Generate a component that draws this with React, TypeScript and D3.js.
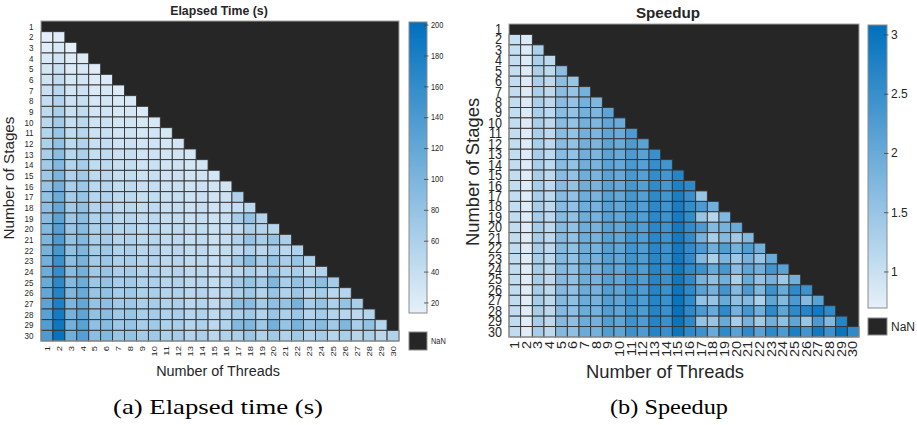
import React from "react";
import * as d3 from "d3";

const stages = ["1","2","3","4","5","6","7","8","9","10","11","12","13","14","15","16","17","18","19","20","21","22","23","24","25","26","27","28","29","30"];
const threads = ["1","2","3","4","5","6","7","8","9","10","11","12","13","14","15","16","17","18","19","20","21","22","23","24","25","26","27","28","29","30"];

// Elapsed time (s): one row per number of stages, one value per number of threads (row 1 is missing)
const elapsedRows: number[][] = [
  [],
  [14.4, 18.4],
  [18.8, 24.7, 15.0],
  [23.2, 30.9, 18.9, 21.8],
  [27.9, 37.5, 22.5, 26.4, 18.1],
  [32.2, 43.7, 26.0, 30.4, 20.9, 22.7],
  [36.7, 49.9, 29.7, 34.8, 23.8, 25.6, 20.7],
  [41.3, 56.2, 33.4, 39.1, 26.5, 28.6, 23.4, 24.9],
  [45.9, 62.4, 36.9, 43.4, 29.5, 31.6, 25.9, 27.3, 22.9],
  [50.0, 68.6, 40.5, 47.8, 32.2, 34.7, 28.3, 30.1, 25.7, 27.0],
  [54.5, 75.8, 44.2, 52.1, 35.2, 37.6, 30.7, 32.6, 27.8, 29.5, 25.4],
  [59.1, 82.1, 47.9, 56.4, 38.1, 40.8, 33.3, 35.1, 29.8, 31.6, 27.7, 29.4],
  [63.6, 88.4, 51.2, 60.8, 40.7, 43.9, 35.6, 37.8, 31.9, 33.9, 29.6, 31.5, 27.4],
  [68.1, 94.7, 54.8, 65.1, 43.7, 46.7, 38.2, 40.3, 34.1, 36.1, 31.4, 33.4, 28.9, 30.4],
  [72.7, 101.0, 58.5, 69.4, 46.6, 49.8, 40.5, 43.0, 36.2, 38.3, 33.4, 35.5, 30.5, 32.7, 28.8],
  [77.2, 107.3, 62.1, 73.8, 49.2, 52.9, 43.0, 45.4, 38.2, 40.5, 35.1, 37.5, 32.0, 35.0, 29.9, 31.5],
  [81.7, 113.6, 65.8, 78.1, 52.1, 55.7, 45.3, 48.0, 40.3, 42.9, 37.1, 39.6, 33.6, 36.4, 31.2, 35.0, 58.3],
  [86.3, 119.9, 68.9, 82.4, 54.9, 58.8, 47.8, 50.4, 42.3, 45.0, 38.8, 41.6, 35.2, 38.1, 32.5, 36.2, 40.1, 48.6],
  [90.0, 126.2, 72.5, 86.7, 57.5, 61.9, 50.1, 53.1, 44.6, 47.4, 40.8, 43.8, 36.9, 40.0, 34.0, 38.1, 64.8, 81.0, 55.5],
  [94.4, 132.5, 76.1, 90.3, 60.4, 64.6, 52.6, 55.4, 46.6, 49.5, 42.5, 45.7, 38.6, 41.8, 35.4, 39.7, 44.3, 60.0, 55.1, 51.0],
  [98.9, 138.8, 79.7, 94.6, 63.2, 67.6, 54.8, 58.1, 48.8, 51.9, 44.5, 47.9, 40.3, 43.8, 37.1, 41.6, 57.8, 79.1, 62.9, 76.3, 62.9],
  [103.4, 145.1, 83.4, 98.8, 65.7, 70.7, 57.3, 60.7, 50.8, 54.0, 46.3, 49.9, 42.0, 45.6, 38.5, 43.3, 48.6, 58.8, 49.6, 60.4, 49.6, 58.8],
  [107.9, 153.4, 86.3, 103.1, 68.6, 73.8, 59.8, 63.0, 53.0, 56.3, 48.4, 52.0, 43.8, 47.6, 40.1, 45.2, 68.6, 89.7, 64.8, 80.4, 63.0, 77.7, 58.3],
  [112.4, 159.7, 89.9, 107.4, 71.4, 76.4, 61.9, 65.6, 54.9, 58.4, 50.2, 54.0, 45.5, 49.3, 41.4, 46.9, 49.6, 60.7, 51.7, 73.6, 57.8, 63.9, 50.6, 56.5],
  [116.9, 166.1, 93.5, 111.7, 74.3, 79.4, 64.4, 68.2, 57.1, 60.7, 52.2, 56.1, 47.1, 51.3, 42.9, 48.7, 68.2, 78.9, 66.4, 97.1, 63.1, 81.5, 68.2, 87.1, 66.4],
  [121.4, 172.5, 97.1, 116.0, 76.7, 82.5, 66.9, 70.5, 59.1, 62.7, 54.0, 58.0, 48.7, 53.1, 44.3, 50.4, 61.0, 70.9, 54.6, 77.1, 57.0, 74.9, 53.5, 65.6, 50.4, 53.5],
  [125.9, 178.9, 100.7, 120.3, 79.5, 85.0, 69.0, 73.1, 61.2, 65.0, 55.9, 60.2, 50.4, 55.0, 45.3, 52.3, 87.7, 90.6, 68.0, 85.0, 80.0, 104.6, 64.7, 80.0, 59.1, 80.0, 63.2],
  [130.4, 185.3, 104.3, 124.6, 82.3, 88.0, 71.5, 75.7, 63.1, 67.0, 57.7, 62.0, 52.1, 56.8, 46.6, 53.9, 61.2, 70.4, 54.2, 76.1, 59.9, 74.1, 54.2, 67.0, 54.2, 52.1, 48.6, 54.2],
  [134.9, 191.6, 107.9, 128.9, 85.2, 91.0, 73.9, 77.9, 65.3, 69.4, 59.7, 64.2, 53.7, 58.7, 48.6, 55.8, 94.0, 97.1, 72.8, 107.9, 78.7, 104.0, 76.7, 91.0, 69.4, 97.1, 63.3, 83.2, 53.9],
  [139.4, 198.0, 110.7, 133.2, 87.5, 94.1, 76.0, 80.5, 67.2, 71.3, 61.4, 66.0, 55.3, 60.4, 50.5, 57.4, 61.4, 75.3, 57.9, 70.0, 57.9, 70.0, 57.9, 65.4, 53.8, 62.7, 51.9, 61.4, 50.2, 57.9],
];

// Speedup: same layout
const speedupRows: number[][] = [
  [],
  [1.02, 0.80],
  [1.04, 0.79, 1.30],
  [1.05, 0.79, 1.29, 1.12],
  [1.05, 0.78, 1.30, 1.11, 1.62],
  [1.06, 0.78, 1.31, 1.12, 1.63, 1.50],
  [1.06, 0.78, 1.31, 1.12, 1.64, 1.52, 1.88],
  [1.06, 0.78, 1.31, 1.12, 1.65, 1.53, 1.87, 1.76],
  [1.06, 0.78, 1.32, 1.12, 1.65, 1.54, 1.88, 1.78, 2.12],
  [1.07, 0.78, 1.32, 1.12, 1.66, 1.54, 1.89, 1.78, 2.08, 1.98],
  [1.07, 0.77, 1.32, 1.12, 1.66, 1.55, 1.90, 1.79, 2.10, 1.98, 2.30],
  [1.07, 0.77, 1.32, 1.12, 1.66, 1.55, 1.90, 1.80, 2.12, 2.00, 2.28, 2.15],
  [1.07, 0.77, 1.33, 1.12, 1.67, 1.55, 1.91, 1.80, 2.13, 2.01, 2.30, 2.16, 2.48],
  [1.07, 0.77, 1.33, 1.12, 1.67, 1.56, 1.91, 1.81, 2.14, 2.02, 2.32, 2.18, 2.52, 2.40],
  [1.07, 0.77, 1.33, 1.12, 1.67, 1.56, 1.92, 1.81, 2.15, 2.03, 2.33, 2.19, 2.55, 2.38, 2.70],
  [1.07, 0.77, 1.33, 1.12, 1.68, 1.56, 1.92, 1.82, 2.16, 2.04, 2.35, 2.20, 2.58, 2.36, 2.76, 2.62],
  [1.07, 0.77, 1.33, 1.12, 1.68, 1.57, 1.93, 1.82, 2.17, 2.04, 2.36, 2.21, 2.60, 2.40, 2.80, 2.50, 1.50],
  [1.07, 0.77, 1.34, 1.12, 1.68, 1.57, 1.93, 1.83, 2.18, 2.05, 2.38, 2.22, 2.62, 2.42, 2.84, 2.55, 2.30, 1.90],
  [1.08, 0.77, 1.34, 1.12, 1.69, 1.57, 1.94, 1.83, 2.18, 2.05, 2.38, 2.22, 2.63, 2.43, 2.86, 2.55, 1.50, 1.20, 1.75],
  [1.08, 0.77, 1.34, 1.13, 1.69, 1.58, 1.94, 1.84, 2.19, 2.06, 2.40, 2.23, 2.64, 2.44, 2.88, 2.57, 2.30, 1.70, 1.85, 2.00],
  [1.08, 0.77, 1.34, 1.13, 1.69, 1.58, 1.95, 1.84, 2.19, 2.06, 2.40, 2.23, 2.65, 2.44, 2.88, 2.57, 1.85, 1.35, 1.70, 1.40, 1.70],
  [1.08, 0.77, 1.34, 1.13, 1.70, 1.58, 1.95, 1.84, 2.20, 2.07, 2.41, 2.24, 2.66, 2.45, 2.90, 2.58, 2.30, 1.90, 2.25, 1.85, 2.25, 1.90],
  [1.08, 0.76, 1.35, 1.13, 1.70, 1.58, 1.95, 1.85, 2.20, 2.07, 2.41, 2.24, 2.66, 2.45, 2.91, 2.58, 1.70, 1.30, 1.80, 1.45, 1.85, 1.50, 2.00],
  [1.08, 0.76, 1.35, 1.13, 1.70, 1.59, 1.96, 1.85, 2.21, 2.08, 2.42, 2.25, 2.67, 2.46, 2.93, 2.59, 2.45, 2.00, 2.35, 1.65, 2.10, 1.90, 2.40, 2.15],
  [1.08, 0.76, 1.35, 1.13, 1.70, 1.59, 1.96, 1.85, 2.21, 2.08, 2.42, 2.25, 2.68, 2.46, 2.94, 2.59, 1.85, 1.60, 1.90, 1.30, 2.00, 1.55, 1.85, 1.45, 1.90],
  [1.08, 0.76, 1.35, 1.13, 1.71, 1.59, 1.96, 1.86, 2.22, 2.09, 2.43, 2.26, 2.69, 2.47, 2.96, 2.60, 2.15, 1.85, 2.40, 1.70, 2.30, 1.75, 2.45, 2.00, 2.60, 2.45],
  [1.08, 0.76, 1.35, 1.13, 1.71, 1.60, 1.97, 1.86, 2.22, 2.09, 2.43, 2.26, 2.70, 2.47, 3.00, 2.60, 1.55, 1.50, 2.00, 1.60, 1.70, 1.30, 2.10, 1.70, 2.30, 1.70, 2.15],
  [1.08, 0.76, 1.35, 1.13, 1.71, 1.60, 1.97, 1.86, 2.23, 2.10, 2.44, 2.27, 2.70, 2.48, 3.02, 2.61, 2.30, 2.00, 2.60, 1.85, 2.35, 1.90, 2.60, 2.10, 2.60, 2.70, 2.90, 2.60],
  [1.08, 0.76, 1.35, 1.13, 1.71, 1.60, 1.97, 1.87, 2.23, 2.10, 2.44, 2.27, 2.71, 2.48, 3.00, 2.61, 1.55, 1.50, 2.00, 1.35, 1.85, 1.40, 1.90, 1.60, 2.10, 1.50, 2.30, 1.75, 2.70],
  [1.08, 0.76, 1.36, 1.13, 1.72, 1.60, 1.98, 1.87, 2.24, 2.11, 2.45, 2.28, 2.72, 2.49, 2.98, 2.62, 2.45, 2.00, 2.60, 2.15, 2.60, 2.15, 2.60, 2.30, 2.80, 2.40, 2.90, 2.45, 3.00, 2.60],
];

const elapsedLimits = [13.5, 202];
const speedupLimits = [0.696, 3.084];
const elapsedTicks = [20, 40, 60, 80, 100, 120, 140, 160, 180, 200];
const speedupTicks = [1, 1.5, 2, 2.5, 3];

const LIGHT = "#e6f0f9";
const DARK = "#0070bd";
const NAN = "#262626";
const FONT = "Liberation Sans, Arial, Helvetica, sans-serif";
const SERIF = "Liberation Serif, Times New Roman, serif";

type Cfg = {
  id: string;
  rows: number[][];
  limits: number[];
  ticks: number[];
  gx0: number; gx1: number; gy0: number; gy1: number;
  title: string; titleSize: number; titleX: number; titleY: number;
  tickFont: number; tickSy: number; yTickX: number; xTickY: number;
  labelFont: number; labelSy: number; xLabelX: number; xLabelY: number; yLabelX: number; yLabelY: number;
  cbX: number; cbW: number; cbY0: number; cbY1: number; cbFont: number; cbSy: number;
  nanY: number; nanH: number;
};

function Txt(props: {
  x: number; y: number; sy?: number; rot?: boolean; size: number;
  anchor?: string; weight?: string; baseline?: string; children: React.ReactNode;
}) {
  const { x, y, sy = 1, rot, size, anchor = "start", weight = "normal", baseline = "auto", children } = props;
  return (
    <text
      transform={`translate(${x},${y}) scale(1,${sy})${rot ? " rotate(-90)" : ""}`}
      fontSize={size}
      fontFamily={FONT}
      fontWeight={weight}
      textAnchor={anchor}
      dominantBaseline={baseline}
      fill="#262626"
    >
      {children}
    </text>
  );
}

function Heatmap({ c }: { c: Cfg }) {
  const x = d3.scaleBand<string>().domain(threads).range([c.gx0, c.gx1]);
  const y = d3.scaleBand<string>().domain(stages).range([c.gy0, c.gy1]);
  const color = d3
    .scaleLinear<string>()
    .domain(c.limits)
    .range([LIGHT, DARK])
    .interpolate(d3.interpolateRgb)
    .clamp(true);
  const cb = d3.scaleLinear().domain(c.limits).range([c.cbY1, c.cbY0]);
  const cells: React.ReactNode[] = [];
  c.rows.forEach((row, i) => {
    row.forEach((v, j) => {
      cells.push(
        <rect
          key={`${i}-${j}`}
          x={x(threads[j])!}
          y={y(stages[i])!}
          width={x.bandwidth()}
          height={y.bandwidth()}
          fill={color(v)}
          stroke="#333333"
          strokeWidth={0.9}
        />
      );
    });
  });
  return (
    <g>
      <defs>
        <linearGradient id={`grad-${c.id}`} x1="0" y1="0" x2="0" y2="1">
          <stop offset="0" stopColor={DARK} />
          <stop offset="1" stopColor={LIGHT} />
        </linearGradient>
      </defs>
      <rect x={c.gx0} y={c.gy0} width={c.gx1 - c.gx0} height={c.gy1 - c.gy0} fill={NAN} />
      {cells}
      <rect x={c.gx0} y={c.gy0} width={c.gx1 - c.gx0} height={c.gy1 - c.gy0} fill="none" stroke="#a0a0a0" strokeWidth={1} />
      <Txt x={c.titleX} y={c.titleY} size={c.titleSize} anchor="middle" weight="bold">{c.title}</Txt>
      {stages.map((s) => (
        <Txt key={`y${s}`} x={c.yTickX} y={y(s)! + y.bandwidth() / 2} sy={c.tickSy} size={c.tickFont} anchor="end" baseline="central">{s}</Txt>
      ))}
      {threads.map((t) => (
        <Txt key={`x${t}`} x={x(t)! + x.bandwidth() / 2} y={c.xTickY} sy={c.tickSy} rot size={c.tickFont} anchor="end" baseline="central">{t}</Txt>
      ))}
      <Txt x={c.xLabelX} y={c.xLabelY} sy={c.labelSy} size={c.labelFont} anchor="middle">Number of Threads</Txt>
      <Txt x={c.yLabelX} y={c.yLabelY} sy={c.labelSy} rot size={c.labelFont} anchor="middle">Number of Stages</Txt>
      <rect x={c.cbX} y={c.cbY0} width={c.cbW} height={c.cbY1 - c.cbY0} fill={`url(#grad-${c.id})`} stroke="#8c8c8c" strokeWidth={1} />
      {c.ticks.map((t) => (
        <g key={`cb${t}`}>
          <line x1={c.cbX + c.cbW - 3} x2={c.cbX + c.cbW + 1.5} y1={cb(t)} y2={cb(t)} stroke="#404040" strokeWidth={0.8} />
          <Txt x={c.cbX + c.cbW + 4} y={cb(t)} sy={c.cbSy} size={c.cbFont} baseline="central">{String(t)}</Txt>
        </g>
      ))}
      <rect x={c.cbX} y={c.nanY} width={c.cbW} height={c.nanH} fill={NAN} stroke="#8c8c8c" strokeWidth={1} />
      <Txt x={c.cbX + c.cbW + 4} y={c.nanY + c.nanH / 2} sy={c.cbSy} size={c.cbFont} baseline="central">NaN</Txt>
    </g>
  );
}

const leftCfg: Cfg = {
  id: "a", rows: elapsedRows, limits: elapsedLimits, ticks: elapsedTicks,
  gx0: 41, gx1: 399, gy0: 21, gy1: 341,
  title: "Elapsed Time (s)", titleSize: 12.3, titleX: 219, titleY: 15,
  tickFont: 8, tickSy: 1.18, yTickX: 33.5, xTickY: 346,
  labelFont: 14.4, labelSy: 1.06, xLabelX: 218, xLabelY: 376, yLabelX: 14, yLabelY: 178,
  cbX: 409, cbW: 18, cbY0: 22, cbY1: 313, cbFont: 7.4, cbSy: 1.2,
  nanY: 332, nanH: 18,
};

const rightCfg: Cfg = {
  id: "b", rows: speedupRows, limits: speedupLimits, ticks: speedupTicks,
  gx0: 509, gx1: 859, gy0: 24, gy1: 337,
  title: "Speedup", titleSize: 15.2, titleX: 668, titleY: 18,
  tickFont: 12.6, tickSy: 1.15, yTickX: 502, xTickY: 341,
  labelFont: 18.4, labelSy: 1.0, xLabelX: 665, xLabelY: 378, yLabelX: 479, yLabelY: 172,
  cbX: 868, cbW: 19, cbY0: 25, cbY1: 308, cbFont: 12, cbSy: 1.0,
  nanY: 318, nanH: 17,
};

export default function App() {
  return (
    <svg width={917} height={425} style={{ position: "absolute", left: 0, top: 0, background: "#ffffff" }}>
      <rect x={0} y={0} width={917} height={425} fill="#ffffff" />
      <Heatmap c={leftCfg} />
      <Heatmap c={rightCfg} />
      <text x={218} y={414} fontSize={21} fontFamily={SERIF} textAnchor="middle" textLength={210} lengthAdjust="spacingAndGlyphs" fill="#000">(a) Elapsed time (s)</text>
      <text x={669} y={414} fontSize={21} fontFamily={SERIF} textAnchor="middle" textLength={118} lengthAdjust="spacingAndGlyphs" fill="#000">(b) Speedup</text>
    </svg>
  );
}
